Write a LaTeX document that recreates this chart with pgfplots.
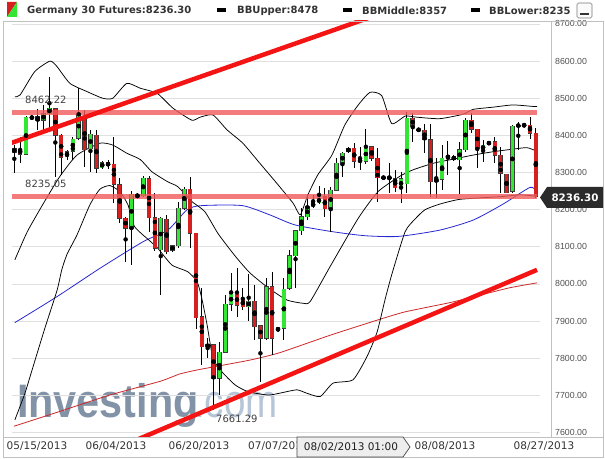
\documentclass[border=0pt]{standalone}
\usepackage{graphicx}
\usepackage{pgfplots}
\pgfplotsset{compat=1.18}
\usepackage{pgfplotstable}
\usepackage{fontspec}
\setmainfont{DejaVu Sans}
\newfontfamily\lib{Liberation Sans}

\definecolor{cgreen}{RGB}{51,230,51}
\definecolor{cred}{RGB}{214,32,32}
\definecolor{outl}{RGB}{60,60,60}
\definecolor{gridc}{RGB}{224,224,224}
\definecolor{framec}{RGB}{192,192,192}
\definecolor{bandred}{RGB}{240,90,90}
\definecolor{trendred}{RGB}{245,20,20}
\definecolor{blueline}{RGB}{40,40,210}
\definecolor{mared}{RGB}{205,40,40}
\definecolor{wm}{RGB}{131,147,167}
\definecolor{wmlight}{RGB}{182,198,216}
\definecolor{txt}{RGB}{51,51,51}
\definecolor{tag}{RGB}{43,43,43}

\pgfplotstableread{
i o h l c
0 8355 8374 8300 8364
1 8363 8397 8325 8349
2 8350 8452 8348 8449
3 8446 8455 8441 8450
4 8450 8470 8415 8441
5 8441 8482 8415 8458
6 8459 8558 8415 8473
7 8472 8475 8287 8400
8 8400 8405 8293 8341
9 8343 8360 8335 8356
10 8358 8395 8333 8390
11 8392 8527 8387 8458
12 8449 8468 8316 8361
13 8364 8414 8302 8403
14 8400 8414 8300 8311
15 8313 8330 8310 8327
16 8327 8335 8310 8318
17 8322 8397 8217 8268
18 8267 8285 8165 8177
19 8177 8180 8060 8150
20 8150 8250 8051 8241
21 8241 8246 8230 8234
22 8238 8290 8235 8284
23 8284 8290 8141 8179
24 8179 8244 8090 8096
25 8092 8180 7970 8177
26 8174 8186 8080 8087
27 8089 8106 8086 8103
28 8103 8222 8096 8204
29 8204 8262 8200 8255
30 8255 8289 8096 8136
31 8136 8136 7880 7909
32 7912 7988 7782 7831
33 7832 7855 7800 7836
34 7836 7836 7661.29 7746
35 7746 7845 7701 7816
36 7816 7970 7813 7945
37 7945 8029 7926 7973
38 7973 8042 7912 7943
39 7959 7990 7930 7939
40 7939 8026 7900 7954
41 7954 7997 7849 7885
42 7887 7890 7737 7854
43 7854 8015 7850 7993
44 7993 8033 7809 7854
45 7874 7885 7870 7883
46 7881 8015 7849 7986
47 7989 8091 7985 8076
48 8076 8144 7990 8143
49 8143 8204 8132 8181
50 8181 8241 8172 8208
51 8208 8240 8205 8219
52 8219 8265 8215 8231
53 8235 8258 8181 8202
54 8202 8262 8141 8253
55 8253 8338 8250 8325
56 8325 8356 8289 8352
57 8356 8368 8354 8365
58 8365 8379 8313 8331
59 8333 8370 8307 8330
60 8330 8417 8322 8370
61 8370 8372 8330 8338
62 8338 8365 8222 8286
63 8287 8290 8283 8285
64 8286 8326 8244 8287
65 8283 8307 8249 8259
66 8259 8302 8217 8283
67 8270 8462 8245 8446
68 8446 8461 8383 8425
69 8416 8420 8411 8414
70 8414 8432 8352 8389
71 8388 8432 8235 8275
72 8275 8338 8231 8282
73 8282 8374 8253 8338
74 8338 8386 8294 8347
75 8344 8347 8331 8334
76 8334 8383 8241 8362
77 8362 8446 8355 8441
78 8441 8459 8406 8416
79 8416 8416 8311 8365
80 8361 8388 8329 8374
81 8377 8384 8374 8382
82 8383 8397 8325 8347
83 8347 8370 8244 8298
84 8296 8296 8244 8246
85 8249 8428 8246 8424
86 8425 8437 8361 8428
87 8428 8432 8424 8426
88 8428 8450 8389 8406
89 8406 8419 8231 8236.3
}\candles

\begin{document}
\begin{tikzpicture}
\useasboundingbox (0pt,0pt) rectangle (605pt,458pt);
\fill[white] (0pt,0pt) rectangle (605pt,458pt);

% watermark
\begin{scope}[x=1pt,y=1pt]
\node[anchor=base west, inner sep=0pt, text=wm, font=\lib\bfseries\fontsize{47}{47}\selectfont] at (17,41) {\scalebox{0.88}[1]{Investing}};
\node[anchor=base west, inner sep=0pt, text=wmlight, font=\lib\fontsize{47}{47}\selectfont] at (194,41) {\scalebox{0.82}[1]{.com}};
\end{scope}

\begin{axis}[
  at={(12pt,21pt)}, anchor=south west,
  width=528pt, height=416pt, scale only axis,
  xmin=-0.39, xmax=89.71, ymin=7588, ymax=8708,
  axis line style={draw=none},
  xtick=\empty,
  ytick={7600,7700,...,8700},
  yticklabel pos=right,
  ymajorgrids,
  major grid style={draw=gridc, line width=0.9pt},
  major tick length=0pt,
  yticklabel style={font=\lib\fontsize{8.8}{10}\selectfont, text={rgb,255:red,80;green,80;blue,80}, anchor=west, inner sep=0pt, xshift=15pt},
  /pgf/number format/fixed,
  /pgf/number format/fixed zerofill,
  /pgf/number format/precision=2,
  /pgf/number format/1000 sep={},
  /pgf/number format/assume math mode=true,
]
% 200 MA (thin red)
\addplot[mared, line width=0.8pt, smooth, tension=0.3] coordinates {
(-0.05,7617) (7.8,7657) (16.3,7701) (24.9,7738) (28.3,7758) (31.7,7770) (40.2,7795) (45.3,7815) (53.9,7862) (62.4,7905) (66.7,7925) (74.4,7950) (79.5,7970) (84.6,7990) (89.2,8003)};
% 50 MA (blue)
\addplot[blueline, line width=0.8pt, smooth, tension=0.4] coordinates {
(0.1,7896) (7.3,7966) (14.6,8042) (22.0,8114) (26.2,8145) (29.5,8200) (32.0,8211) (38.9,8211) (43.6,8186) (47.9,8159) (54.2,8141) (59.8,8130) (65.5,8128) (72.6,8145) (78.3,8172) (83.4,8215) (88.0,8260) (89.0,8250)};
% BB upper
\addplot[black, line width=0.75pt, smooth, tension=0.35] coordinates {
(0.1,8504) (1.0,8509) (3.5,8572) (6.1,8600) (7.3,8585) (9.5,8540) (12.4,8518) (15.1,8500) (16.8,8500) (19.2,8540) (21.5,8527) (24.4,8513) (27.1,8473) (30.3,8441) (31.7,8449) (33.9,8455) (36.3,8415) (39.0,8379) (41.9,8325) (44.8,8271) (47.6,8217) (48.8,8186) (50.1,8240) (51.8,8294) (54.2,8347) (56.4,8428) (58.7,8482) (60.7,8516) (62.7,8507) (64.4,8432) (66.7,8452) (68.7,8449) (72.6,8445) (76.6,8457) (78.3,8470) (81.7,8476) (85.1,8482) (88.5,8478) (89.2,8478)};
% BB middle
\addplot[black, line width=0.75pt, smooth, tension=0.35] coordinates {
(0.1,8065) (2.2,8140) (4.9,8215) (7.8,8290) (10.7,8347) (14.6,8379) (16.8,8374) (19.2,8352) (21.5,8335) (23.5,8302) (26.2,8275) (27.9,8262) (30.3,8222) (32.5,8195) (34.8,8135) (37.7,8075) (40.2,8030) (43.3,7990) (46.5,7957) (49.3,7948) (50.5,7953) (53.9,8047) (58.7,8177) (62.1,8249) (65.8,8290) (68.0,8307) (71.5,8325) (74.9,8336) (78.3,8347) (81.7,8356) (85.1,8363) (87.5,8367) (89.2,8357)};
% BB lower
\addplot[black, line width=0.75pt, smooth, tension=0.35] coordinates {
(0.1,7634) (1.8,7705) (3.2,7777) (5.2,7880) (7.3,7983) (8.1,8038) (9.0,8080) (10.7,8132) (12.9,8213) (14.6,8255) (16.3,8265) (18.0,8249) (19.4,8213) (20.5,8155) (23.2,8115) (24.5,8096) (26.9,8051) (29.6,8033) (31.2,8006) (32.0,7961) (32.9,7890) (33.9,7800) (35.4,7764) (37.7,7728) (39.9,7710) (43.3,7701) (45.3,7706) (48.2,7715) (49.9,7706) (52.2,7697) (54.4,7733) (57.8,7742) (60.2,7805) (61.9,7870) (63.3,7960) (64.5,8030) (66.7,8141) (68.4,8175) (70.1,8200) (72.6,8215) (76.1,8228) (82.9,8235) (86.3,8240) (89.2,8236)};

% wicks
\addplot[only marks, mark=none, error bars/.cd, y dir=both, y explicit, error mark=none,
  error bar style={line width=0.9pt, black}]
  table[x=i, y expr={(\thisrow{h}+\thisrow{l})/2}, y error expr={(\thisrow{h}-\thisrow{l})/2}] {\candles};
% body outlines
\addplot[only marks, mark=none, error bars/.cd, y dir=both, y explicit, error mark=none,
  error bar style={line width=4.6pt, outl}]
  table[x=i, y expr={(\thisrow{o}+\thisrow{c})/2}, y error expr={abs(\thisrow{c}-\thisrow{o})/2+1.4}] {\candles};
% green bodies
\addplot[only marks, mark=none, restrict expr to domain={\thisrow{c}-\thisrow{o}}{0:5000},
  error bars/.cd, y dir=both, y explicit, error mark=none,
  error bar style={line width=3.4pt, cgreen}]
  table[x=i, y expr={(\thisrow{o}+\thisrow{c})/2}, y error expr={abs(\thisrow{c}-\thisrow{o})/2}] {\candles};
% red bodies
\addplot[only marks, mark=none, restrict expr to domain={\thisrow{c}-\thisrow{o}}{-5000:0},
  error bars/.cd, y dir=both, y explicit, error mark=none,
  error bar style={line width=3.4pt, cred}]
  table[x=i, y expr={(\thisrow{o}+\thisrow{c})/2}, y error expr={abs(\thisrow{c}-\thisrow{o})/2}] {\candles};

% horizontal bands
\addplot[bandred, line width=5pt, opacity=0.8] coordinates {(-0.4,8462.22) (89.2,8462.22)};
\addplot[bandred, line width=5pt, opacity=0.8] coordinates {(-0.4,8235.05) (89.2,8235.05)};
% trend lines
\addplot[trendred, line width=4.5pt] coordinates {(-0.5,8379.7) (66,8747)};
\addplot[trendred, line width=4.5pt] coordinates {(21,7581) (89.2,8038)};
\end{axis}

\begin{scope}[x=1pt,y=1pt]
% frame
\draw[framec, line width=0.8pt] (3,0.5) -- (3,437) -- (603,437) -- (603,0.5) -- cycle;
\draw[framec, line width=0.8pt] (3,21) -- (603,21);
\draw[framec, line width=0.8pt] (551,21) -- (551,437);
% value labels
\node[anchor=west, inner sep=0pt, text={rgb,255:red,64;green,64;blue,64}, font=\fontsize{10}{11}\selectfont] at (25,358) {8462.22};
\node[anchor=west, inner sep=0pt, text={rgb,255:red,64;green,64;blue,64}, font=\fontsize{10}{11}\selectfont] at (25,274) {8235.05};
\node[anchor=west, inner sep=0pt, text={rgb,255:red,64;green,64;blue,64}, font=\fontsize{10}{11}\selectfont] at (216,39) {7661.29};
% price tag
\fill[tag] (540,260.5) -- (547,271) -- (603,271) -- (603,250) -- (547,250) -- cycle;
\node[text=white, font=\bfseries\fontsize{10.3}{11}\selectfont, inner sep=0pt] at (575,260.5) {8236.30};
% dates
\begin{scope}[font=\fontsize{10.5}{12}\selectfont, text=txt]
\node[inner sep=0pt] at (37,12) {05/15/2013};
\node[inner sep=0pt] at (116,12) {06/04/2013};
\node[inner sep=0pt] at (199,12) {06/20/2013};
\node[inner sep=0pt, anchor=west] at (248,12) {07/07/2013};
\node[inner sep=0pt] at (445,12) {08/08/2013};
\node[inner sep=0pt] at (544,12) {08/27/2013};
\end{scope}
% crosshair box
\filldraw[fill={rgb,255:red,238;green,238;blue,238}, draw={rgb,255:red,70;green,70;blue,70}, line width=0.7pt]
  (297,21) -- (403,21) -- (410,11) -- (403,1) -- (297,1) -- cycle;
\node[inner sep=0pt, text={rgb,255:red,30;green,30;blue,30}, font=\fontsize{10.5}{12}\selectfont] at (351,11) {08/02/2013 01:00};
% title bar
\fill[cred] (7,456) -- (17,456) -- (7,441) -- cycle;
\fill[cgreen] (17,456) -- (17,441) -- (7,441) -- cycle;
\node[anchor=west, inner sep=0pt, text=txt, font=\bfseries\fontsize{10}{11}\selectfont] at (27,447.5) {Germany 30 Futures:8236.30};
\fill[black] (217,445.5) rectangle (226,449.5);
\node[anchor=west, inner sep=0pt, text=txt, font=\bfseries\fontsize{10}{11}\selectfont] at (237,447.5) {BBUpper:8478};
\fill[black] (343,445.5) rectangle (352,449.5);
\node[anchor=west, inner sep=0pt, text=txt, font=\bfseries\fontsize{10}{11}\selectfont] at (362,447.5) {BBMiddle:8357};
\fill[black] (471,445.5) rectangle (480,449.5);
\node[anchor=west, inner sep=0pt, text=txt, font=\bfseries\fontsize{10}{11}\selectfont] at (489,447.5) {BBLower:8235};
\fill[white] (571,438) rectangle (605,458);
\draw[rounded corners=1.5pt, fill={rgb,255:red,250;green,250;blue,250}, draw={rgb,255:red,120;green,120;blue,120}, line width=0.6pt] (577,440) rectangle (592,455);
\fill[black!80] (580,442.5) rectangle (589,444.5);
\end{scope}
\end{tikzpicture}
\end{document}
